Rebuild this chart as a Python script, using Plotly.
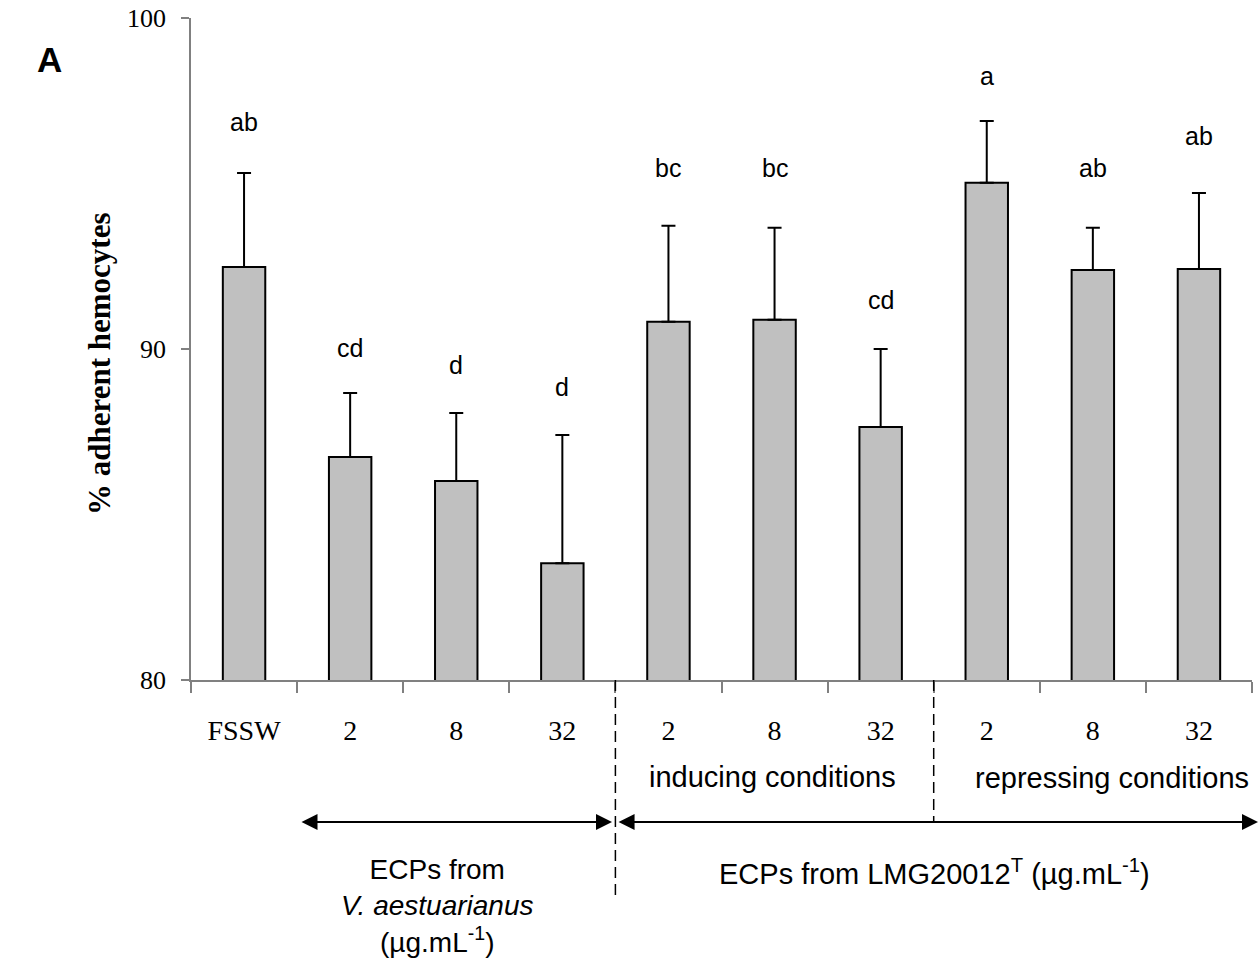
import plotly.graph_objects as go

categories = ["FSSW", "2", "8", "32", "2", "8", "32", "2", "8", "32"]
means = [92.48, 86.74, 86.01, 83.53, 90.82, 90.88, 87.64, 95.02, 92.39, 92.42]
err_upper = [2.84, 1.93, 2.06, 3.87, 2.90, 2.78, 2.36, 1.87, 1.27, 2.29]
letters = ["ab", "cd", "d", "d", "bc", "bc", "cd", "a", "ab", "ab"]
letter_y = [96.86, 90.03, 89.52, 88.85, 95.47, 95.47, 91.48, 98.25, 95.47, 96.43]

x = list(range(len(categories)))
boundaries = [i - 0.5 for i in range(len(categories) + 1)]

sans = "Liberation Sans, Arial"
serif = "Liberation Serif, Times New Roman"

fig = go.Figure()
fig.add_trace(go.Bar(
    x=x, y=means, width=0.4,
    marker=dict(color="#c0c0c0", line=dict(color="black", width=2)),
    error_y=dict(type="data", symmetric=False, array=err_upper,
                 arrayminus=[0] * len(means), color="black", thickness=2, width=7),
))

annotations = []
for xi, t, yy in zip(x, letters, letter_y):
    annotations.append(dict(x=xi, y=yy, xref="x", yref="y", text=t, showarrow=False,
                            font=dict(family=sans, size=25, color="black")))

arrow_y = -0.2145
txt = dict(family=sans, size=29, color="black")
annotations += [
    dict(x=0.5476, y=-0.1465, xref="paper", yref="paper", xanchor="center", yanchor="middle",
         text="inducing conditions", showarrow=False, font=txt),
    dict(x=0.868, y=-0.148, xref="paper", yref="paper", xanchor="center", yanchor="middle",
         text="repressing conditions", showarrow=False, font=txt),
    dict(x=0.3968, y=arrow_y, xref="paper", yref="paper", ax=-312, ay=0,
         axref="pixel", ayref="pixel",
         text="", showarrow=True, arrowhead=2, startarrowhead=2, arrowside="end+start",
         arrowwidth=2, arrowsize=1.6, startarrowsize=1.6, arrowcolor="black",
         standoff=0, startstandoff=0),
    dict(x=1.0057, y=arrow_y, xref="paper", yref="paper", ax=-641, ay=0,
         axref="pixel", ayref="pixel",
         text="", showarrow=True, arrowhead=2, startarrowhead=2, arrowside="end+start",
         arrowwidth=2, arrowsize=1.6, startarrowsize=1.6, arrowcolor="black",
         standoff=0, startstandoff=0),
    dict(x=0.2319, y=-0.3415, xref="paper", yref="paper", xanchor="center", yanchor="middle",
         text="ECPs from<br><i>V. aestuarianus</i><br>(µg.mL<sup>-1</sup>)", showarrow=False,
         font=dict(family=sans, size=28, color="black")),
    dict(x=0.7007, y=-0.2895, xref="paper", yref="paper", xanchor="center", yanchor="middle",
         text="ECPs from LMG20012<sup>T</sup> (µg.mL<sup>-1</sup>)", showarrow=False,
         font=txt),
    dict(x=-0.133, y=0.9366, xref="paper", yref="paper", xanchor="center", yanchor="middle",
         text="<b>A</b>", showarrow=False, font=dict(family=sans, size=35, color="black")),
    dict(x=-0.0867, y=0.4773, xref="paper", yref="paper", xanchor="center", yanchor="middle",
         text="<b>% adherent hemocytes</b>",
         textangle=-90, showarrow=False, font=dict(family=serif, size=31, color="black")),
]

shapes = [
    dict(type="line", xref="x", yref="paper", x0=3.5, x1=3.5, y0=0, y1=-0.3248,
         line=dict(color="black", width=1.5, dash="11px,6px")),
    dict(type="line", xref="x", yref="paper", x0=6.5, x1=6.5, y0=0, y1=-0.2145,
         line=dict(color="black", width=1.5, dash="11px,6px")),
]

fig.update_layout(
    width=1259, height=959,
    margin=dict(l=191, r=7, t=18, b=279),
    plot_bgcolor="white", paper_bgcolor="white",
    showlegend=False,
    annotations=annotations, shapes=shapes,
    xaxis=dict(range=[-0.5, 9.5], tickmode="array", tickvals=x, ticktext=categories,
               ticks="", showline=True, linecolor="#808080", linewidth=1.5,
               showgrid=False, zeroline=False, ticklabelstandoff=25, automargin=False,
               tickfont=dict(family=serif, size=28, color="black"),
               minor=dict(tickmode="array", tickvals=boundaries, ticks="outside",
                          ticklen=11, tickcolor="#808080", tickwidth=1.5, showgrid=False)),
    yaxis=dict(range=[80, 100], tickmode="array", tickvals=[80, 90, 100],
               ticks="outside", ticklen=8, tickcolor="#808080", tickwidth=1.5,
               showline=True, linecolor="#808080", linewidth=1.5, automargin=False,
               showgrid=False, zeroline=False, ticklabelstandoff=10,
               ticklabeloverflow="allow",
               tickfont=dict(family=serif, size=26, color="black")),
)

fig.write_html("out.html", config={"displayModeBar": False},
               post_script="document.body.style.margin='0';document.body.style.overflow='hidden';")
